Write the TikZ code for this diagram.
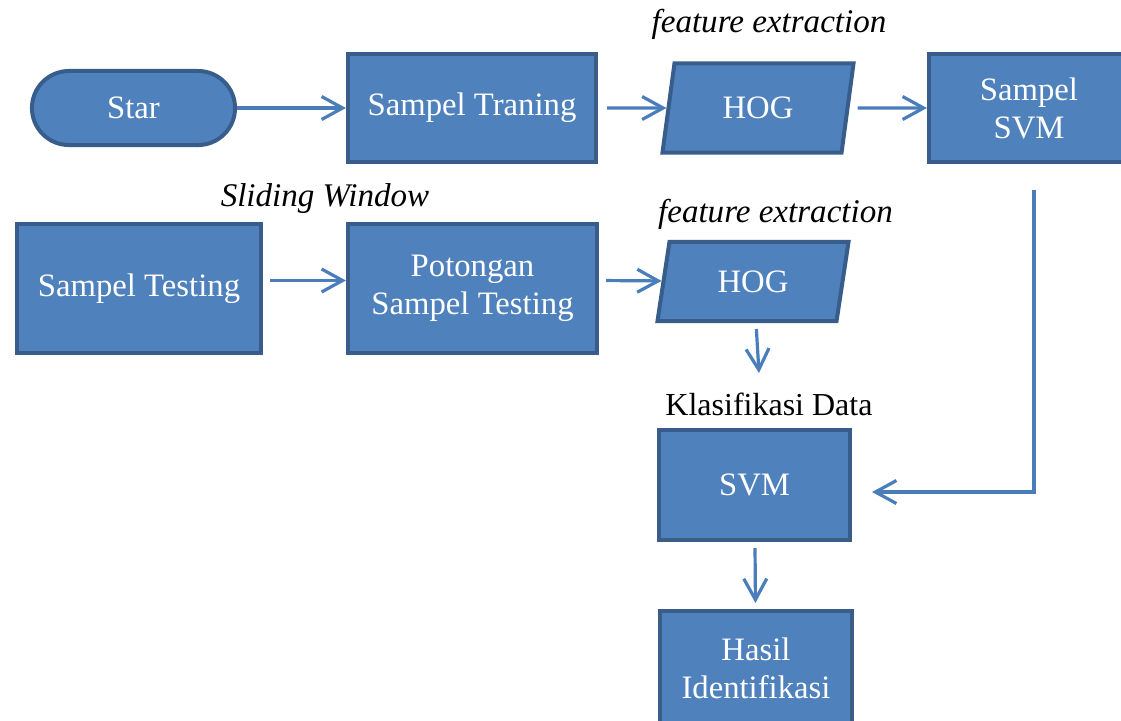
\documentclass[tikz,border=0pt]{standalone}
\usepackage{fontspec}
\setmainfont{Liberation Serif}
\usepackage{tikz}
\usetikzlibrary{shapes.geometric,arrows.meta}
\definecolor{boxfill}{HTML}{4F81BD}
\definecolor{boxline}{HTML}{385D8A}
\definecolor{arrline}{HTML}{4A7EBB}

\begin{document}
\begin{tikzpicture}[x=0.01cm,y=-0.01cm,
  box/.style={draw=boxline,fill=boxfill,line width=0.04cm,text=white,align=center,inner sep=0pt,font=\fontsize{9.3}{10.8}\selectfont},
  term/.style={box,rounded corners=0.37cm},
  io/.style={box,trapezium,trapezium left angle=77,trapezium right angle=103,trapezium stretches=true},
  arr/.style={draw=arrline,line width=0.032cm,-{Straight Barb[length=0.21cm,width=0.23cm]}},
  lab/.style={anchor=base,font=\fontsize{9.4}{11}\selectfont\itshape}]

  \clip (0,0) rectangle (1121,720);
  \node[term,minimum width=2.03cm,minimum height=0.74cm] (star) at (133.5,108) {Star};
  \foreach \x/\y/\w/\h/\n/\t in {472/108/2.48/1.07/train/{Sampel Traning},1029/108/2.0/1.07/ssvm/{Sampel\\SVM},
    139/288.5/2.44/1.29/test/{Sampel Testing},472.5/288.5/2.49/1.29/pot/{Potongan\\Sampel Testing},
    754.5/485/1.91/1.10/svm/{SVM},756/668.5/1.92/1.15/hasil/{Hasil\\Identifikasi}}
    \node[box,minimum width=\w cm,minimum height=\h cm] (\n) at (\x,\y) {\t};
  \node[io,minimum width=1.91cm,minimum height=0.89cm] (hog1) at (758,108) {HOG};
  \node[io,minimum width=1.91cm,minimum height=0.79cm] (hog2) at (753,281.5) {HOG};

  \node[lab] (fe1) at (769,32) {feature extraction};
  \node[lab] (fe2) at (775.5,222) {feature extraction};
  \node[lab] (slide) at (325,206) {Sliding Window};
  \node[lab,font=\fontsize{9.1}{11}\selectfont] (klas) at (769,415) {Klasifikasi Data};

  \draw[arr] (star) -- (train);
  \draw[arr,shorten <=0.09cm] (train) -- (hog1);
  \draw[arr,shorten <=0.08cm] (hog1) -- (ssvm);
  \draw[arr,shorten <=0.07cm] ([yshift=0.08cm]test.east) -- ([yshift=0.08cm]pot.west);
  \draw[arr,shorten <=0.07cm] ([yshift=0.08cm]pot.east) -- (hog2);
  \coordinate (k) at (759,373);
  \draw[arr,shorten <=0.06cm] ([xshift=0.03cm]hog2.south) -- (k);
  \draw[arr,shorten <=0.26cm,shorten >=0.2cm] ([xshift=0.05cm]ssvm.south) |- ([yshift=-0.07cm]svm.east);
  \draw[arr,shorten <=0.06cm,shorten >=0.06cm] (svm) -- (hasil);
\end{tikzpicture}
\end{document}
